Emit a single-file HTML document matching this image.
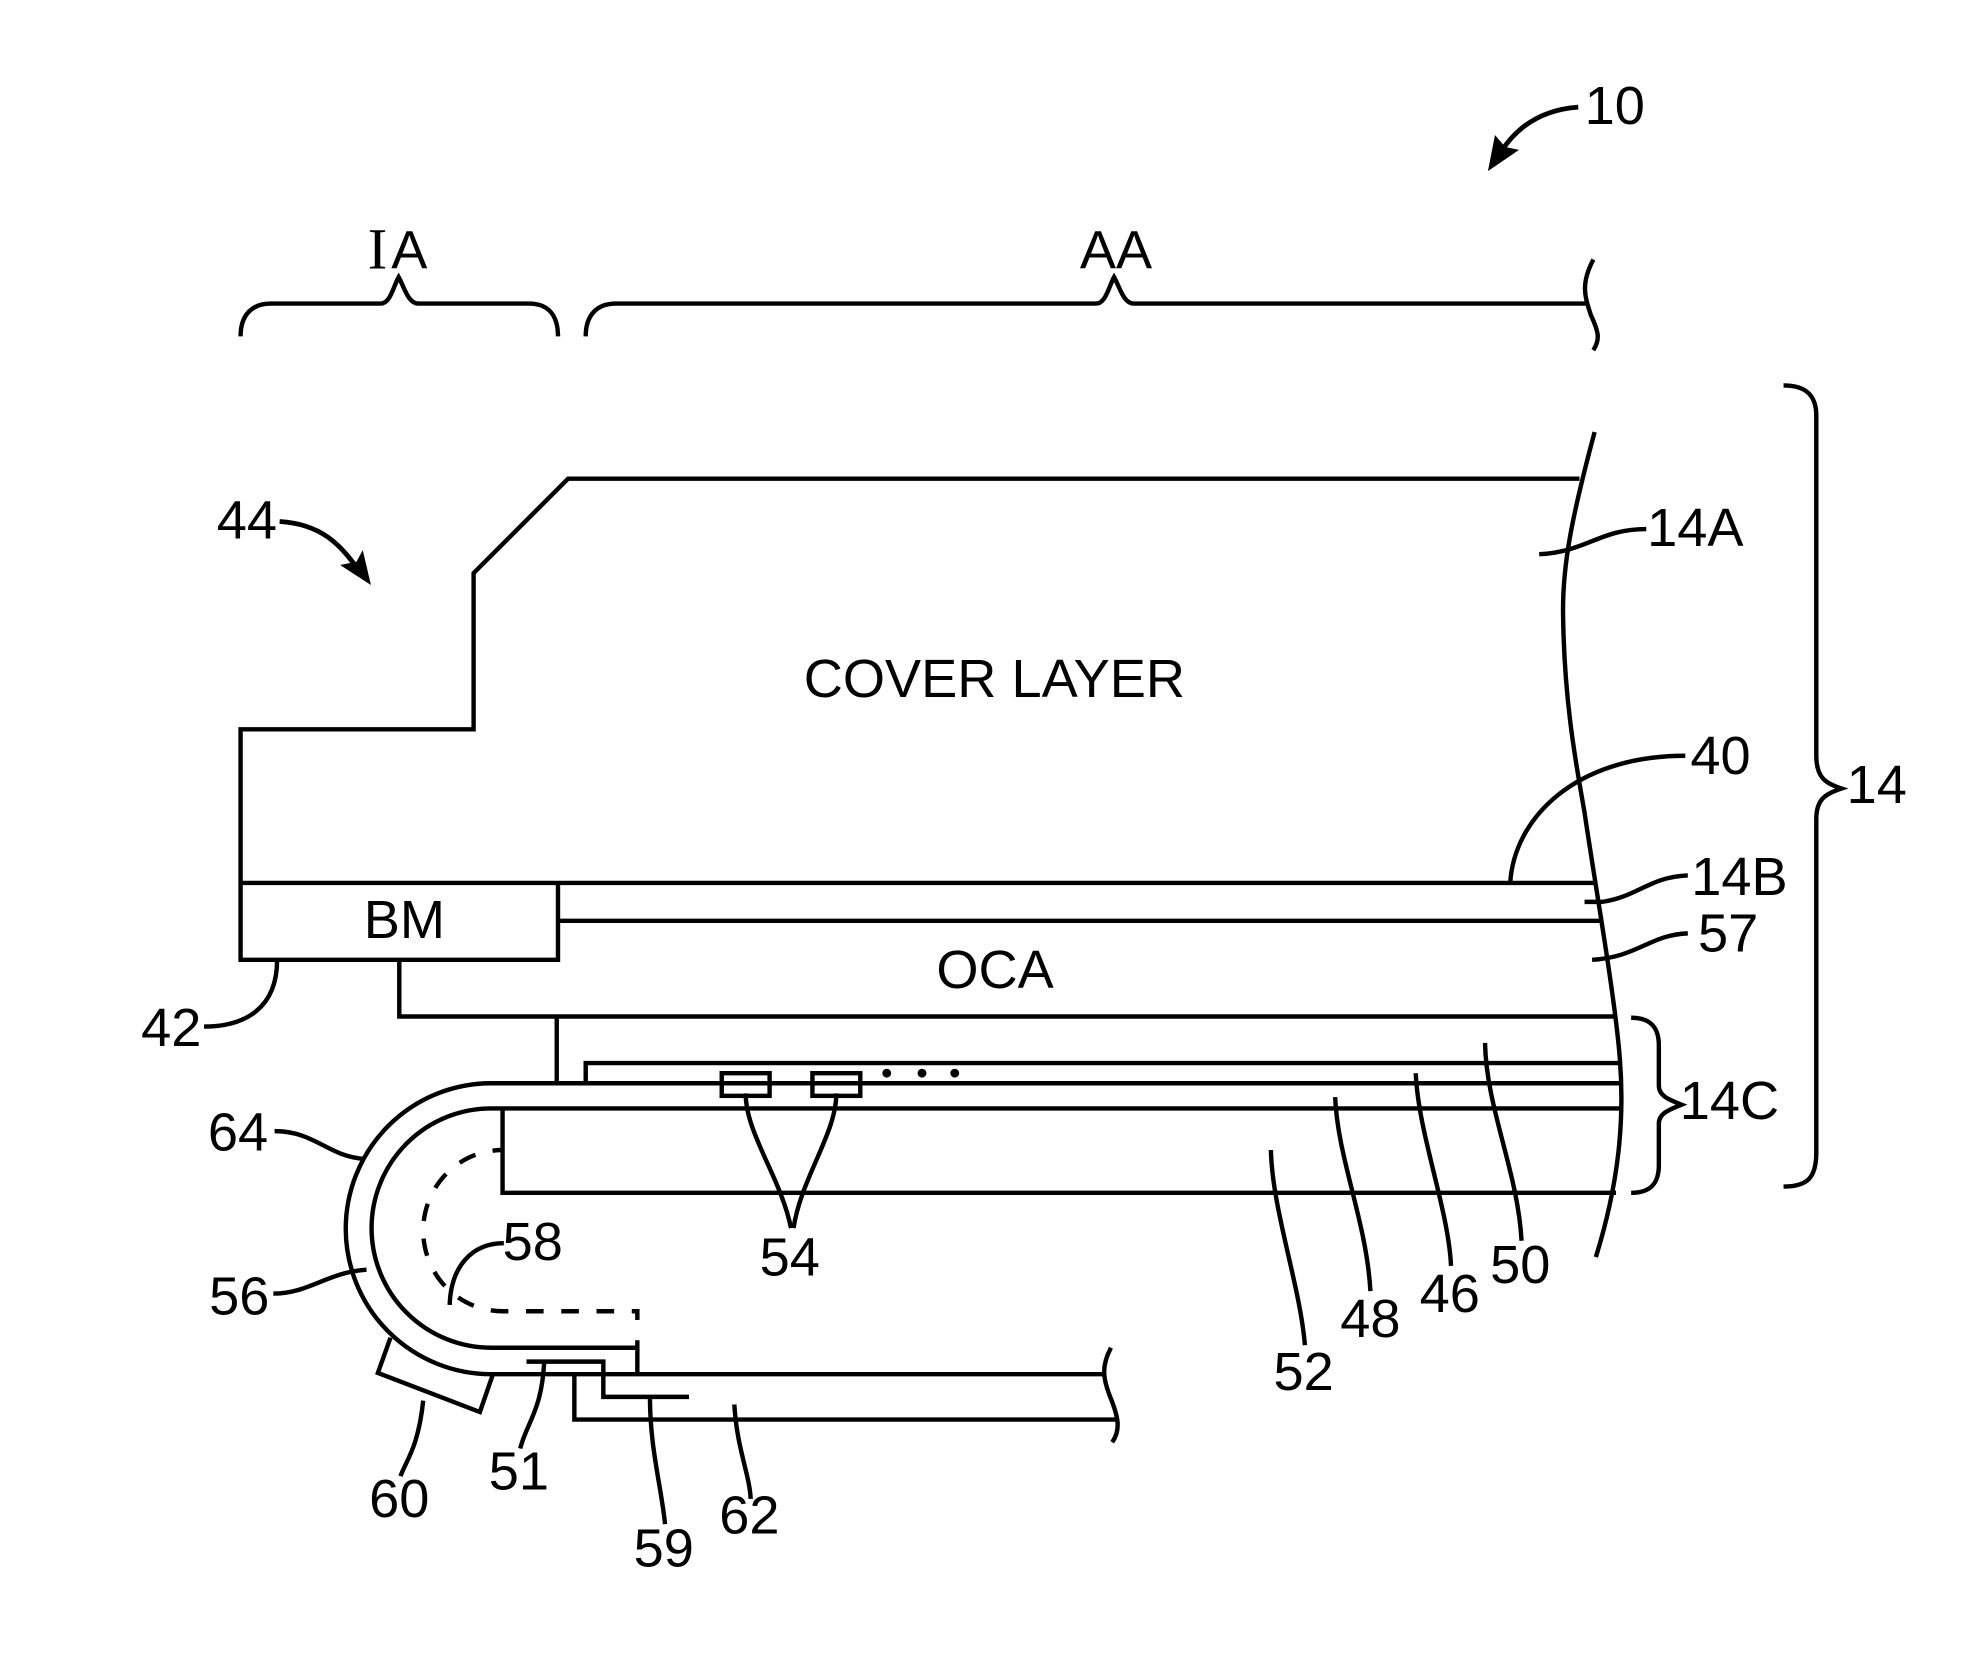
<!DOCTYPE html>
<html><head><meta charset="utf-8"><style>
html,body{margin:0;padding:0;background:#fff}
svg{display:block}
text{font-family:"Liberation Sans",sans-serif;font-size:43px;fill:#000;text-anchor:middle}
path,line,polyline,rect{fill:none;stroke:#000;stroke-width:3.5}
</style></head><body>
<svg xmlns="http://www.w3.org/2000/svg" width="1975" height="1672" viewBox="0 0 1568 1327.4">
<!-- cover layer -->
<path d="M1254 380H451L376 455V579H191V762H443V701"/>
<path d="M191 701H1268"/>
<path d="M443 731H1272"/>
<path d="M317 762V807H1283"/>
<path d="M442 807V860"/>
<path d="M465 860V844H1286"/>
<!-- flexible substrate -->
<path d="M1287 860H390A115.500 115.500 0 0 0 390 1091H878"/>
<path d="M1287 880H390A95 95 0 0 0 390 1070H506"/>
<path d="M399 880V947H1283"/>
<path d="M506 1064V1091"/>
<path d="M399 913A63 64 0 0 0 399 1041H506V1048" stroke-dasharray="14 14" stroke-dashoffset="6"/>
<!-- right break -->
<path d="M1266 343C1248 410 1240 450 1241 490C1242 560 1252 610 1258 645C1266 700 1282 790 1286 840C1290 890 1285 940 1267 998"/>
<!-- braces -->
<path d="M191 267C191 250 200 241 215 241H302C310 241 312 228 316.500 220C321 228 324 241 332 241H420C435 241 443 250 443 267"/>
<path d="M465 267C465 250 474 241 489 241H870C878 241 880 228 884.500 220C889 228 892 241 900 241H1260"/>
<path d="M1265 206C1255 225 1258 235 1263 250C1270 265 1270 270 1265 278"/>
<path d="M1416 306C1435 306 1442 315 1442 330V600C1442 618 1450 622 1462 626C1450 630 1442 634 1442 650V915C1442 935 1435 942 1416 942"/>
<path d="M1295 808C1310 808 1317 815 1317 830V862C1317 870 1325 873 1335 877C1325 881 1317 884 1317 892V925C1317 940 1310 947 1295 947"/>
<!-- pixels -->
<rect x="573" y="852" width="38" height="18"/>
<rect x="645" y="852" width="38" height="18"/>
<circle cx="704" cy="852" r="3.500"/><circle cx="732" cy="852" r="3.500"/><circle cx="758" cy="852" r="3.500"/>
<!-- bottom components -->
<path d="M310 1062L300 1090L381 1121L391 1092"/>
<path d="M418 1081H479V1109H547"/>
<path d="M456 1091V1127H886"/>
<path d="M882 1070C874 1085 876 1095 881 1108C888 1125 890 1135 883 1145"/>
<!-- leaders -->
<path d="M1222 440C1260 438 1270 420 1307 420"/>
<path d="M1199 701C1202 650 1250 600 1338 600"/>
<path d="M1258 716H1272C1300 712 1310 696 1340 695"/>
<path d="M1264 762C1300 760 1310 742 1340 741"/>
<path d="M220 762C220 800 195 815 162 815"/>
<path d="M222 414C255 416 270 432 285 453" style="stroke-width:3.800"/>
<path d="M592 868C592 900 620 935 628 975"/>
<path d="M664 868C664 900 636 935 630 975"/>
<path d="M1179 828C1180 880 1205 930 1208 985"/>
<path d="M1124 852C1126 900 1150 960 1152 1005"/>
<path d="M1060 871C1062 920 1085 970 1088 1025"/>
<path d="M1009 913C1010 960 1032 1020 1036 1068"/>
<path d="M218 898C250 898 260 918 289 920"/>
<path d="M217 1027C245 1027 260 1010 291 1008"/>
<path d="M400 987C375 987 358 1005 357 1036"/>
<path d="M336 1112C332 1150 322 1160 318 1172"/>
<path d="M432 1082C430 1120 418 1130 413 1150"/>
<path d="M583 1115C585 1150 595 1170 596 1190"/>
<path d="M516 1109C516 1150 525 1180 528 1210"/>
<path d="M1253 85C1225 87 1205 100 1192 120" style="stroke-width:3.800"/>
<polygon points="1181.300,135.800 1186.900,107.200 1195,116.700 1206,119" fill="#000"/>
<polygon points="294.500,464.400 270,448.500 283,446 288,436.700" fill="#000"/>
<!-- labels -->
<text x="1282" y="98.500">10</text>
<text x="299.700" y="213" style="font-family:'Liberation Serif',serif;font-size:46.500px">I</text>
<text x="325" y="213">A</text>
<text x="886" y="213">AA</text>
<text x="1346" y="433.500">14A</text>
<text x="196" y="427.500">44</text>
<text x="789.500" y="553.500">COVER LAYER</text>
<text x="1366" y="614.500">40</text>
<text x="1490" y="637.500">14</text>
<text x="1381" y="710.500">14B</text>
<text x="1372" y="755.500">57</text>
<text x="321" y="744.500">BM</text>
<text x="790" y="784.500">OCA</text>
<text x="136" y="830.500">42</text>
<text x="1373" y="888.500">14C</text>
<text x="189" y="913.500">64</text>
<text x="190" y="1043.500">56</text>
<text x="423" y="1000.500">58</text>
<text x="627" y="1012.500">54</text>
<text x="1207" y="1018.500">50</text>
<text x="1151" y="1041.500">46</text>
<text x="1088" y="1061.500">48</text>
<text x="1035" y="1103.500">52</text>
<text x="412" y="1182.500">51</text>
<text x="317" y="1204.500">60</text>
<text x="527" y="1243.500">59</text>
<text x="595" y="1217.500">62</text>
</svg>
</body></html>
